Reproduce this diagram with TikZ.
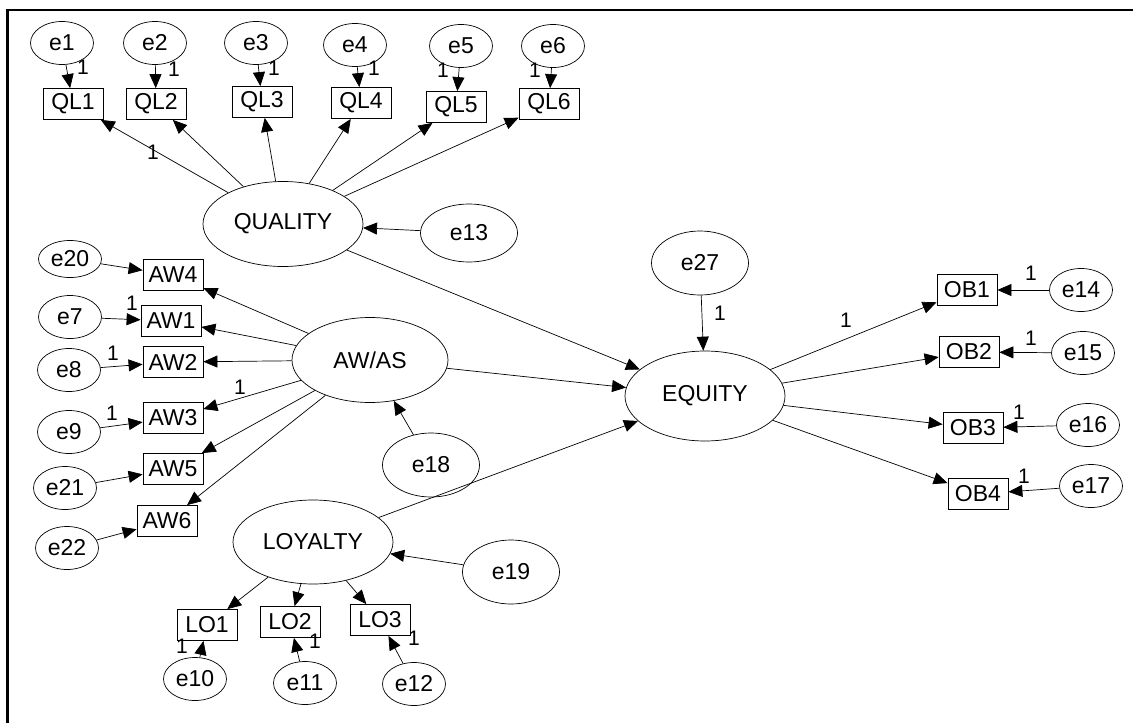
\documentclass[tikz,border=0pt]{standalone}
\usepackage{fontspec}
\setmainfont{Liberation Sans}
\usetikzlibrary{shapes.geometric,arrows.meta}
\begin{document}
\begin{tikzpicture}[x=1pt,y=-1pt,
  every node/.style={font=\fontsize{23}{26}\selectfont},
  obs/.style={draw, rectangle, minimum width=60pt, minimum height=31pt, inner sep=0pt, line width=0.8pt},
  err/.style={draw, ellipse, minimum width=63pt, minimum height=43pt, inner sep=0pt, line width=0.7pt},
  bigerr/.style={draw, ellipse, minimum width=97pt, minimum height=64pt, inner sep=0pt, line width=0.7pt},
  lat/.style={draw, ellipse, minimum width=160pt, minimum height=85pt, inner sep=0pt, line width=0.7pt},
  arr/.style={-{Triangle[length=14pt,width=12pt]}, line width=0.7pt},
  one/.style={font=\fontsize{21}{24}\selectfont, inner sep=0pt}
]
\useasboundingbox (0,0) rectangle (1133,723);
\fill[white] (0,0) rectangle (1133,723);
% frame (top and left edges)
\draw[line width=2.2pt] (7.5,723) -- (7.5,10) -- (1133,10);

% quality indicators
\node[err] (e1) at (62,43) {e1};
\node[err] (e2) at (155,43) {e2};
\node[err] (e3) at (256,43) {e3};
\node[err] (e4) at (355,45) {e4};
\node[err] (e5) at (461,46) {e5};
\node[err] (e6) at (553,46) {e6};
\node[obs] (QL1) at (73,104) {QL1};
\node[obs] (QL2) at (156,104) {QL2};
\node[obs] (QL3) at (262,102) {QL3};
\node[obs] (QL4) at (361,103) {QL4};
\node[obs] (QL5) at (456,107) {QL5};
\node[obs] (QL6) at (549,104) {QL6};

% latent variables
\node[lat] (QUAL) at (283,224) {QUALITY};
\node[lat, minimum width=156pt] (AWAS) at (370,360) {AW/AS};
\node[lat, minimum height=90pt] (EQ) at (705,396) {EQUITY};
\node[lat, minimum height=84pt] (LOY) at (313,542) {LOYALTY};

% disturbances
\node[bigerr, minimum height=58pt] (e13) at (469,233) {e13};
\node[bigerr] (e27) at (700,263) {e27};
\node[bigerr] (e18) at (431,465) {e18};
\node[bigerr] (e19) at (511,572) {e19};

% awareness indicators
\node[obs] (AW4) at (173,275) {AW4};
\node[obs] (AW1) at (171,321) {AW1};
\node[obs] (AW2) at (173,362) {AW2};
\node[obs] (AW3) at (173,418) {AW3};
\node[obs] (AW5) at (173,469) {AW5};
\node[obs] (AW6) at (167,521) {AW6};
\node[err, minimum height=37pt] (e20) at (70,259) {e20};
\node[err] (e7) at (70,317) {e7};
\node[err] (e8) at (69,370) {e8};
\node[err] (e9) at (69,432) {e9};
\node[err] (e21) at (65,488) {e21};
\node[err] (e22) at (67,548) {e22};

% loyalty indicators
\node[obs] (LO1) at (207,625) {LO1};
\node[obs] (LO2) at (290,622) {LO2};
\node[obs] (LO3) at (380,620) {LO3};
\node[err] (e10) at (195,679) {e10};
\node[err] (e11) at (305,683) {e11};
\node[err] (e12) at (414,684) {e12};

% equity indicators
\node[obs] (OB1) at (967,290) {OB1};
\node[obs] (OB2) at (969,352) {OB2};
\node[obs] (OB3) at (973,428) {OB3};
\node[obs] (OB4) at (978,494) {OB4};
\node[err] (e14) at (1081,290) {e14};
\node[err] (e15) at (1083,353) {e15};
\node[err] (e16) at (1088,425) {e16};
\node[err] (e17) at (1091,486) {e17};

% error paths
\foreach \e/\v in {e1/QL1,e2/QL2,e3/QL3,e4/QL4,e5/QL5,e6/QL6,
                   e20/AW4,e7/AW1,e8/AW2,e9/AW3,e21/AW5,e22/AW6,
                   e10/LO1,e11/LO2,e12/LO3,
                   e14/OB1,e15/OB2,e16/OB3,e17/OB4,
                   e13/QUAL,e27/EQ,e18/AWAS,e19/LOY}
  \draw[arr] (\e) -- (\v);

% loadings
\foreach \v in {QL1,QL2,QL3,QL4,QL5,QL6} \draw[arr] (QUAL) -- (\v);
\foreach \v in {AW4,AW1,AW2,AW3,AW5,AW6} \draw[arr] (AWAS) -- (\v);
\foreach \v in {LO1,LO2,LO3} \draw[arr] (LOY) -- (\v);
\foreach \v in {OB1,OB2,OB3,OB4} \draw[arr] (EQ) -- (\v);

% structural paths
\draw[arr] (QUAL) -- (EQ);
\draw[arr] (AWAS) -- (EQ);
\draw[arr] (LOY) -- (EQ);

% fixed parameters
\node[one] (f1) at (83,67) {1};
\node[one] (f2) at (174,69) {1};
\node[one] (f3) at (274,68) {1};
\node[one] (f4) at (374,68) {1};
\node[one] (f5) at (443,70) {1};
\node[one] (f6) at (535,70) {1};
\node[one] (fq) at (153,152) {1};
\node[one] (f27) at (720,313) {1};
\node[one] (fob) at (846,320) {1};
\node[one] (f14) at (1031,273) {1};
\node[one] (f15) at (1031,338) {1};
\node[one] (f16) at (1019,412) {1};
\node[one] (f17) at (1024,476) {1};
\node[one] (f7) at (132,303) {1};
\node[one] (f8) at (113,353) {1};
\node[one] (f9) at (112,413) {1};
\node[one] (faw) at (240,387) {1};
\node[one] (f10) at (182,646) {1};
\node[one] (f11) at (315,641) {1};
\node[one] (f12) at (414,638) {1};
\end{tikzpicture}
\end{document}
